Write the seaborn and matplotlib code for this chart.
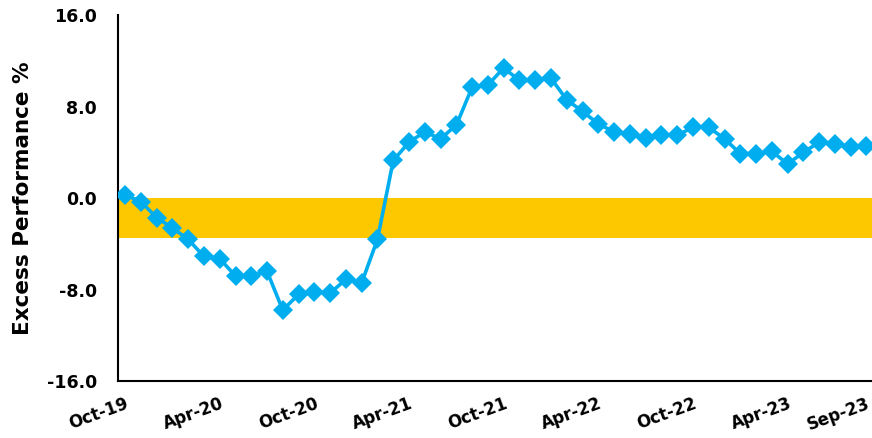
import pandas as pd
import seaborn as sns
import matplotlib.pyplot as plt

# monthly excess performance, Oct-19 .. Sep-23
months = pd.date_range('2019-10-01', '2023-09-01', freq='MS')
excess = [0.3, -0.3, -1.7, -2.6, -3.6, -5.1, -5.3, -6.8, -6.8, -6.4,
          -9.8, -8.4, -8.2, -8.3, -7.1, -7.4, -3.6, 3.3, 4.9, 5.8,
          5.2, 6.4, 9.7, 9.9, 11.4, 10.3, 10.3, 10.5, 8.6, 7.6,
          6.5, 5.8, 5.6, 5.3, 5.5, 5.5, 6.2, 6.2, 5.2, 3.9,
          3.9, 4.1, 3.0, 4.0, 4.9, 4.7, 4.5, 4.6]
tick_labels = ['Oct-19', 'Apr-20', 'Oct-20', 'Apr-21', 'Oct-21',
               'Apr-22', 'Oct-22', 'Apr-23', 'Sep-23']
band_low, band_high = -3.5, 0.0

df = pd.DataFrame({'month': months, 'excess': excess})
df['pos'] = range(len(df))
df['label'] = df['month'].dt.strftime('%b-%y')

sns.set_style('white')
plt.rcParams['font.family'] = ['DejaVu Sans']

fig = plt.figure(figsize=(8.72, 4.38), dpi=100)
ax = fig.add_axes([0.1353, 0.130, 0.8647, 0.835])

ax.axhspan(band_low, band_high, color='#FDC800', lw=0, zorder=1)
sns.lineplot(data=df, x='pos', y='excess', ax=ax, color='#00AEEF',
             linewidth=2.6, marker='D', markersize=10.5,
             markeredgewidth=0, zorder=3)

ax.set_ylim(-16, 16)
ax.set_yticks([16, 8, 0, -8, -16])
ax.set_yticklabels([f'{v:.1f}' for v in [16, 8, 0, -8, -16]],
                   fontsize=12.5, fontweight='bold', color='black')
ax.set_xlim(-0.45, len(df) - 0.65)
tick_pos = df.loc[df['label'].isin(tick_labels), 'pos'].tolist()
ax.set_xticks(tick_pos)
ax.set_xticklabels(tick_labels, rotation=20, ha='right',
                   rotation_mode='anchor', fontsize=12, fontweight='bold',
                   color='black')
ax.tick_params(axis='both', length=0)
ax.tick_params(axis='y', pad=15)
ax.tick_params(axis='x', pad=10)

ax.set_xlabel('')
ax.set_ylabel('Excess Performance %', fontsize=15.5, fontweight='bold',
              color='black', labelpad=10)

for side in ['top', 'right']:
    ax.spines[side].set_visible(False)
for side in ['left', 'bottom']:
    ax.spines[side].set_color('black')
    ax.spines[side].set_linewidth(1.5)

fig.savefig('out.png', dpi=100)
